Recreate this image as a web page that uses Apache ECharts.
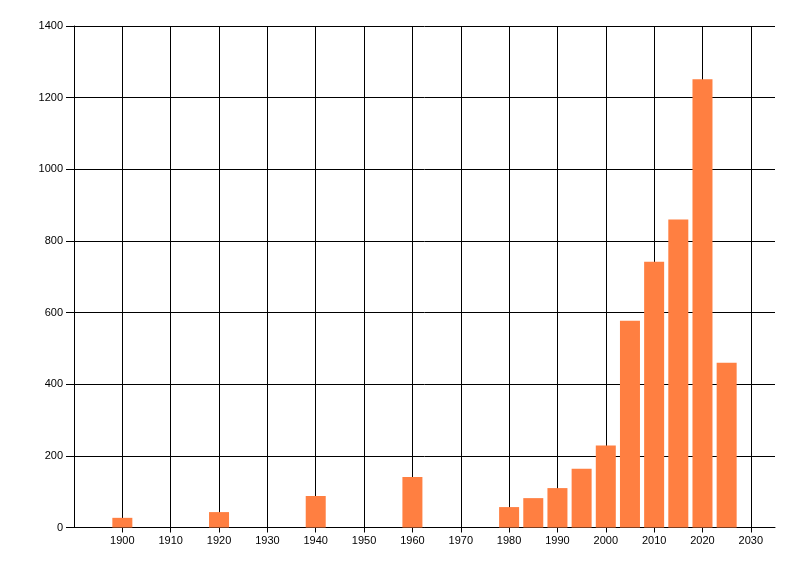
<!DOCTYPE html>
<html>
<head>
<meta charset="utf-8">
<script src="https://cdn.jsdelivr.net/npm/echarts@6/dist/echarts.min.js"></script>
<style>
html,body{margin:0;padding:0;background:#fff;}
#chart{width:800px;height:576px;}
</style>
</head>
<body>
<div id="chart"></div>
<script>
const years = [1900, 1920, 1940, 1960, 1980, 1985, 1990, 1995, 2000, 2005, 2010, 2015, 2020, 2025];
const counts = [27, 43, 88, 141, 57, 82, 110, 164, 229, 577, 742, 860, 1251, 460];
const xTicks = [1900, 1910, 1920, 1930, 1940, 1950, 1960, 1970, 1980, 1990, 2000, 2010, 2020, 2030];
const yTicks = [0, 200, 400, 600, 800, 1000, 1200, 1400];

const chart = echarts.init(document.getElementById('chart'), null, {renderer: 'canvas'});
const font = {fontFamily: 'Liberation Sans', fontSize: 11, color: '#000'};
chart.setOption({
  animation: false,
  backgroundColor: '#fff',
  grid: {left: 74, top: 26, right: 25, bottom: 48.5, containLabel: false},
  xAxis: {
    type: 'value', min: 1890, max: 2035, interval: 10,
    axisLine: {show: true, onZero: false, lineStyle: {color: '#000', width: 1}},
    axisTick: {show: true, length: 5, inside: false, customValues: xTicks, lineStyle: {color: '#000'}},
    axisLabel: Object.assign({customValues: xTicks, margin: 8, formatter: v => String(v)}, font),
    splitLine: {show: true, lineStyle: {color: '#000', width: 1}}
  },
  yAxis: {
    type: 'value', min: 0, max: 1400, interval: 200,
    axisLine: {show: true, lineStyle: {color: '#000', width: 1}},
    axisTick: {show: true, length: 8, inside: false, customValues: yTicks, lineStyle: {color: '#000'}},
    axisLabel: Object.assign({customValues: yTicks, margin: 11, formatter: v => String(v)}, font),
    splitLine: {show: true, lineStyle: {color: '#000', width: 1}}
  },
  series: [{
    type: 'bar',
    data: years.map((y, i) => [y, counts[i]]),
    barWidth: 20,
    itemStyle: {color: '#FF7F41'},
    z: 3
  }]
});
</script>
</body>
</html>
